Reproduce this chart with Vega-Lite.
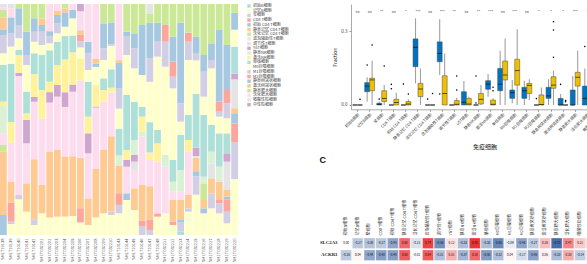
{
"$schema":"https://vega.github.io/schema/vega-lite/v6.json",
"background":"white",
"padding":{"left":0,"top":4,"right":0,"bottom":0},
"config":{"view":{"stroke":null},"font":"Noto Sans CJK SC","axis":{"grid":false}},
"resolve":{"scale":{"color":"independent"},"legend":{"color":"independent"}},
"datasets":{
"cells":[{"k":"k0","name":"初始B细胞","i":0},{"k":"k1","name":"记忆B细胞","i":1},{"k":"k2","name":"浆细胞","i":2},{"k":"k3","name":"CD8 T细胞","i":3},{"k":"k4","name":"初始 CD4 T细胞","i":4},{"k":"k5","name":"静息记忆 CD4 T细胞","i":5},{"k":"k6","name":"活化记忆 CD4 T细胞","i":6},{"k":"k7","name":"滤泡辅助性T细胞","i":7},{"k":"k8","name":"调节性T细胞","i":8},{"k":"k9","name":"γδT细胞","i":9},{"k":"k10","name":"静息NK细胞","i":10},{"k":"k11","name":"激活NK细胞","i":11},{"k":"k12","name":"单核细胞","i":12},{"k":"k13","name":"M0巨噬细胞","i":13},{"k":"k14","name":"M1巨噬细胞","i":14},{"k":"k15","name":"M2巨噬细胞","i":15},{"k":"k16","name":"静息树突状细胞","i":16},{"k":"k17","name":"激活树突状细胞","i":17},{"k":"k18","name":"静息肥大细胞","i":18},{"k":"k19","name":"活化肥大细胞","i":19},{"k":"k20","name":"嗜酸性粒细胞","i":20},{"k":"k21","name":"中性粒细胞","i":21}],
"comp":[
{"s":"SM1T19138","k0":0,"k1":0,"k2":0,"k3":0,"k4":60,"k5":190,"k6":20,"k7":35,"k8":0,"k9":0,"k10":82,"k11":13,"k12":110,"k13":35,"k14":55,"k15":0,"k16":17,"k17":36,"k18":22,"k19":8,"k20":10,"k21":0},
{"s":"SM1T19139","k0":0,"k1":33,"k2":7,"k3":57,"k4":0,"k5":62,"k6":0,"k7":118,"k8":0,"k9":0,"k10":0,"k11":62,"k12":175,"k13":51,"k14":40,"k15":0,"k16":48,"k17":0,"k18":0,"k19":27,"k20":13,"k21":0},
{"s":"SM1T19140","k0":0,"k1":107,"k2":13,"k3":0,"k4":0,"k5":0,"k6":0,"k7":357,"k8":0,"k9":10,"k10":0,"k11":53,"k12":15,"k13":35,"k14":40,"k15":0,"k16":50,"k17":0,"k18":13,"k19":0,"k20":0,"k21":0},
{"s":"SM1T19141","k0":0,"k1":70,"k2":0,"k3":0,"k4":0,"k5":85,"k6":0,"k7":120,"k8":0,"k9":70,"k10":0,"k11":20,"k12":65,"k13":80,"k14":30,"k15":0,"k16":70,"k17":0,"k18":83,"k19":0,"k20":0,"k21":0},
{"s":"SM1T19142","k0":0,"k1":30,"k2":17,"k3":0,"k4":0,"k5":180,"k6":0,"k7":173,"k8":0,"k9":15,"k10":0,"k11":68,"k12":62,"k13":35,"k14":30,"k15":0,"k16":40,"k17":0,"k18":43,"k19":0,"k20":0,"k21":0},
{"s":"SM1T032201","k0":0,"k1":65,"k2":0,"k3":0,"k4":0,"k5":85,"k6":0,"k7":200,"k8":0,"k9":0,"k10":0,"k11":85,"k12":105,"k13":30,"k14":40,"k15":0,"k16":20,"k17":20,"k18":43,"k19":0,"k20":0,"k21":0},
{"s":"SM1T032202","k0":0,"k1":50,"k2":0,"k3":0,"k4":0,"k5":190,"k6":0,"k7":140,"k8":0,"k9":30,"k10":0,"k11":30,"k12":90,"k13":20,"k14":20,"k15":0,"k16":15,"k17":0,"k18":0,"k19":78,"k20":0,"k21":0},
{"s":"SM1T032203","k0":0,"k1":55,"k2":0,"k3":0,"k4":0,"k5":200,"k6":0,"k7":160,"k8":0,"k9":35,"k10":0,"k11":60,"k12":70,"k13":25,"k14":30,"k15":0,"k16":25,"k17":12,"k18":0,"k19":21,"k20":0,"k21":0},
{"s":"SM1T032204","k0":0,"k1":55,"k2":0,"k3":0,"k4":0,"k5":180,"k6":0,"k7":148,"k8":0,"k9":44,"k10":0,"k11":98,"k12":70,"k13":28,"k14":0,"k15":0,"k16":43,"k17":12,"k18":13,"k19":0,"k20":0,"k21":0},
{"s":"SM1T032205","k0":0,"k1":53,"k2":0,"k3":0,"k4":0,"k5":167,"k6":0,"k7":180,"k8":0,"k9":20,"k10":0,"k11":90,"k12":47,"k13":48,"k14":0,"k15":0,"k16":24,"k17":0,"k18":0,"k19":16,"k20":0,"k21":0},
{"s":"SM1T032206","k0":0,"k1":40,"k2":0,"k3":45,"k4":0,"k5":160,"k6":0,"k7":245,"k8":0,"k9":0,"k10":0,"k11":70,"k12":0,"k13":35,"k14":20,"k15":20,"k16":0,"k17":15,"k18":0,"k19":60,"k20":0,"k21":23},
{"s":"SM1T032207","k0":0,"k1":30,"k2":0,"k3":0,"k4":0,"k5":80,"k6":0,"k7":135,"k8":0,"k9":60,"k10":0,"k11":50,"k12":105,"k13":35,"k14":50,"k15":0,"k16":35,"k17":0,"k18":0,"k19":113,"k20":0,"k21":0},
{"s":"SM1T032208","k0":0,"k1":53,"k2":0,"k3":0,"k4":0,"k5":147,"k6":0,"k7":185,"k8":0,"k9":3,"k10":0,"k11":65,"k12":0,"k13":55,"k14":0,"k15":0,"k16":10,"k17":15,"k18":0,"k19":165,"k20":0,"k21":0},
{"s":"SM1T032209","k0":0,"k1":65,"k2":0,"k3":0,"k4":0,"k5":190,"k6":0,"k7":145,"k8":0,"k9":0,"k10":0,"k11":35,"k12":35,"k13":55,"k14":35,"k15":0,"k16":75,"k17":0,"k18":58,"k19":0,"k20":0,"k21":0},
{"s":"SM1T032210","k0":0,"k1":60,"k2":10,"k3":0,"k4":0,"k5":225,"k6":0,"k7":130,"k8":0,"k9":0,"k10":0,"k11":15,"k12":55,"k13":70,"k14":5,"k15":0,"k16":65,"k17":0,"k18":55,"k19":0,"k20":0,"k21":0},
{"s":"SM1T19143","k0":0,"k1":65,"k2":25,"k3":35,"k4":0,"k5":83,"k6":0,"k7":0,"k8":0,"k9":0,"k10":30,"k11":0,"k12":80,"k13":60,"k14":60,"k15":0,"k16":77,"k17":8,"k18":0,"k19":168,"k20":0,"k21":0},
{"s":"SM1T19144","k0":0,"k1":105,"k2":0,"k3":0,"k4":20,"k5":0,"k6":0,"k7":80,"k8":0,"k9":20,"k10":0,"k11":30,"k12":165,"k13":120,"k14":55,"k15":0,"k16":15,"k17":0,"k18":83,"k19":0,"k20":0,"k21":0},
{"s":"SM1T19145","k0":0,"k1":75,"k2":0,"k3":0,"k4":0,"k5":65,"k6":0,"k7":55,"k8":25,"k9":20,"k10":45,"k11":0,"k12":115,"k13":100,"k14":60,"k15":0,"k16":45,"k17":0,"k18":88,"k19":0,"k20":0,"k21":0},
{"s":"SM1T19146","k0":0,"k1":0,"k2":27,"k3":16,"k4":0,"k5":107,"k6":0,"k7":145,"k8":0,"k9":0,"k10":15,"k11":45,"k12":30,"k13":95,"k14":0,"k15":0,"k16":150,"k17":0,"k18":63,"k19":0,"k20":0,"k21":0},
{"s":"SM1T19147","k0":0,"k1":0,"k2":15,"k3":30,"k4":0,"k5":100,"k6":0,"k7":80,"k8":0,"k9":0,"k10":0,"k11":20,"k12":90,"k13":120,"k14":70,"k15":0,"k16":105,"k17":0,"k18":28,"k19":0,"k20":28,"k21":0},
{"s":"SM1T19148","k0":0,"k1":55,"k2":0,"k3":10,"k4":0,"k5":0,"k6":0,"k7":155,"k8":0,"k9":0,"k10":0,"k11":55,"k12":40,"k13":220,"k14":45,"k15":0,"k16":57,"k17":0,"k18":56,"k19":0,"k20":0,"k21":0},
{"s":"SM1T032211","k0":0,"k1":65,"k2":0,"k3":0,"k4":0,"k5":0,"k6":0,"k7":140,"k8":0,"k9":0,"k10":35,"k11":0,"k12":0,"k13":265,"k14":75,"k15":50,"k16":0,"k17":0,"k18":63,"k19":0,"k20":0,"k21":0},
{"s":"SM1T032212","k0":0,"k1":30,"k2":0,"k3":10,"k4":0,"k5":65,"k6":0,"k7":25,"k8":0,"k9":0,"k10":30,"k11":0,"k12":65,"k13":215,"k14":35,"k15":45,"k16":75,"k17":0,"k18":98,"k19":0,"k20":0,"k21":0},
{"s":"SM1T032213","k0":10,"k1":0,"k2":27,"k3":0,"k4":8,"k5":60,"k6":0,"k7":25,"k8":0,"k9":0,"k10":65,"k11":0,"k12":105,"k13":40,"k14":55,"k15":0,"k16":242,"k17":0,"k18":56,"k19":0,"k20":0,"k21":0},
{"s":"SM1T032214","k0":0,"k1":70,"k2":10,"k3":0,"k4":0,"k5":40,"k6":0,"k7":130,"k8":0,"k9":0,"k10":0,"k11":35,"k12":75,"k13":165,"k14":55,"k15":27,"k16":0,"k17":0,"k18":86,"k19":0,"k20":0,"k21":0},
{"s":"SM1T032215","k0":0,"k1":120,"k2":55,"k3":0,"k4":15,"k5":40,"k6":0,"k7":0,"k8":5,"k9":25,"k10":0,"k11":0,"k12":160,"k13":100,"k14":20,"k15":0,"k16":50,"k17":0,"k18":98,"k19":0,"k20":0,"k21":0},
{"s":"SM1T032216","k0":0,"k1":65,"k2":0,"k3":0,"k4":15,"k5":25,"k6":50,"k7":0,"k8":0,"k9":0,"k10":20,"k11":0,"k12":185,"k13":55,"k14":75,"k15":0,"k16":50,"k17":0,"k18":153,"k19":0,"k20":0,"k21":0},
{"s":"SM1T032217","k0":0,"k1":80,"k2":45,"k3":0,"k4":0,"k5":45,"k6":0,"k7":0,"k8":45,"k9":0,"k10":35,"k11":0,"k12":80,"k13":170,"k14":25,"k15":0,"k16":50,"k17":0,"k18":118,"k19":0,"k20":0,"k21":0},
{"s":"SM1T032218","k0":0,"k1":65,"k2":30,"k3":10,"k4":0,"k5":55,"k6":0,"k7":0,"k8":5,"k9":0,"k10":40,"k11":0,"k12":100,"k13":50,"k14":15,"k15":30,"k16":215,"k17":0,"k18":78,"k19":0,"k20":0,"k21":0},
{"s":"SM1T032219","k0":0,"k1":35,"k2":35,"k3":37,"k4":8,"k5":20,"k6":0,"k7":0,"k8":85,"k9":25,"k10":0,"k11":0,"k12":60,"k13":45,"k14":45,"k15":40,"k16":135,"k17":0,"k18":123,"k19":0,"k20":0,"k21":0},
{"s":"SM1T032220","k0":0,"k1":165,"k2":110,"k3":55,"k4":30,"k5":15,"k6":0,"k7":0,"k8":85,"k9":17,"k10":0,"k11":0,"k12":80,"k13":50,"k14":0,"k15":0,"k16":50,"k17":0,"k18":26,"k19":0,"k20":0,"k21":0}
],
"box":[
{"c":"初始B细胞","g":"Normal","lo":0,"q1":0,"med":0,"q3":0,"hi":0},{"c":"初始B细胞","g":"Tumor","lo":0,"q1":0,"med":0,"q3":0,"hi":0},
{"c":"记忆B细胞","g":"Normal","lo":0.014,"q1":0.054,"med":0.077,"q3":0.091,"hi":0.113},{"c":"记忆B细胞","g":"Tumor","lo":0,"q1":0.058,"med":0.102,"q3":0.109,"hi":0.18},
{"c":"浆细胞","g":"Normal","lo":0,"q1":0,"med":0.003,"q3":0.007,"hi":0.014},{"c":"浆细胞","g":"Tumor","lo":0,"q1":0.014,"med":0.027,"q3":0.058,"hi":0.081},
{"c":"CD8 T细胞","g":"Normal","lo":0,"q1":0,"med":0,"q3":0,"hi":0},{"c":"CD8 T细胞","g":"Tumor","lo":0,"q1":0,"med":0.01,"q3":0.023,"hi":0.05},
{"c":"初始 CD4 T细胞","g":"Normal","lo":0,"q1":0,"med":0,"q3":0,"hi":0},{"c":"初始 CD4 T细胞","g":"Tumor","lo":0,"q1":0,"med":0.004,"q3":0.014,"hi":0.023},
{"c":"静息记忆 CD4 T细胞","g":"Normal","lo":0.088,"q1":0.156,"med":0.235,"q3":0.269,"hi":0.353},{"c":"静息记忆 CD4 T细胞","g":"Tumor","lo":0,"q1":0.034,"med":0.065,"q3":0.088,"hi":0.149},
{"c":"活化记忆 CD4 T细胞","g":"Normal","lo":0,"q1":0,"med":0,"q3":0,"hi":0},{"c":"活化记忆 CD4 T细胞","g":"Tumor","lo":0,"q1":0,"med":0,"q3":0,"hi":0},
{"c":"滤泡辅助性T细胞","g":"Normal","lo":0.122,"q1":0.176,"med":0.21,"q3":0.257,"hi":0.349},{"c":"滤泡辅助性T细胞","g":"Tumor","lo":0,"q1":0,"med":0.047,"q3":0.119,"hi":0.21},
{"c":"调节性T细胞","g":"Normal","lo":0,"q1":0,"med":0,"q3":0,"hi":0},{"c":"调节性T细胞","g":"Tumor","lo":0,"q1":0,"med":0.003,"q3":0.018,"hi":0.03},
{"c":"γδT细胞","g":"Normal","lo":0,"q1":0,"med":0.011,"q3":0.054,"hi":0.098},{"c":"γδT细胞","g":"Tumor","lo":0,"q1":0,"med":0.004,"q3":0.027,"hi":0.034},
{"c":"静息NK细胞","g":"Normal","lo":0,"q1":0,"med":0,"q3":0,"hi":0},{"c":"静息NK细胞","g":"Tumor","lo":0,"q1":0.004,"med":0.023,"q3":0.047,"hi":0.081},
{"c":"激活NK细胞","g":"Normal","lo":0.034,"q1":0.064,"med":0.085,"q3":0.099,"hi":0.126},{"c":"激活NK细胞","g":"Tumor","lo":0,"q1":0,"med":0.003,"q3":0.02,"hi":0.027},
{"c":"单核细胞","g":"Normal","lo":0,"q1":0.058,"med":0.085,"q3":0.149,"hi":0.221},{"c":"单核细胞","g":"Tumor","lo":0,"q1":0.102,"med":0.122,"q3":0.179,"hi":0.271},
{"c":"M0巨噬细胞","g":"Normal","lo":0.007,"q1":0.027,"med":0.05,"q3":0.061,"hi":0.102},{"c":"M0巨噬细胞","g":"Tumor","lo":0,"q1":0.081,"med":0.14,"q3":0.186,"hi":0.308},
{"c":"M1巨噬细胞","g":"Normal","lo":0,"q1":0.027,"med":0.058,"q3":0.072,"hi":0.099},{"c":"M1巨噬细胞","g":"Tumor","lo":0.02,"q1":0.047,"med":0.08,"q3":0.088,"hi":0.105},
{"c":"M2巨噬细胞","g":"Normal","lo":0,"q1":0,"med":0,"q3":0,"hi":0},{"c":"M2巨噬细胞","g":"Tumor","lo":0,"q1":0,"med":0.002,"q3":0.041,"hi":0.071},
{"c":"静息树突状细胞","g":"Normal","lo":0,"q1":0.027,"med":0.037,"q3":0.072,"hi":0.105},{"c":"静息树突状细胞","g":"Tumor","lo":0,"q1":0.068,"med":0.081,"q3":0.115,"hi":0.14},
{"c":"激活树突状细胞","g":"Normal","lo":0,"q1":0,"med":0,"q3":0.027,"hi":0.045},{"c":"激活树突状细胞","g":"Tumor","lo":0,"q1":0,"med":0,"q3":0,"hi":0},
{"c":"静息肥大细胞","g":"Normal","lo":0,"q1":0,"med":0,"q3":0.061,"hi":0.118},{"c":"静息肥大细胞","g":"Tumor","lo":0,"q1":0.077,"med":0.113,"q3":0.133,"hi":0.221},
{"c":"活化肥大细胞","g":"Normal","lo":0,"q1":0,"med":0.027,"q3":0.077,"hi":0.149},{"c":"活化肥大细胞","g":"Tumor","lo":0,"q1":0.01,"med":0.03,"q3":0.06,"hi":0.12},
{"c":"嗜酸性粒细胞","g":"Normal","lo":0,"q1":0,"med":0,"q3":0.01,"hi":0.02},{"c":"嗜酸性粒细胞","g":"Tumor","lo":0,"q1":0,"med":0.005,"q3":0.02,"hi":0.04},
{"c":"中性粒细胞","g":"Normal","lo":0,"q1":0,"med":0,"q3":0,"hi":0},{"c":"中性粒细胞","g":"Tumor","lo":0,"q1":0,"med":0,"q3":0,"hi":0}
],
"out":[
{"c":"初始B细胞","g":"Tumor","v":0.023},
{"c":"记忆B细胞","g":"Normal","v":0.163},{"c":"记忆B细胞","g":"Tumor","v":0.244},
{"c":"浆细胞","g":"Normal","v":0.024},{"c":"浆细胞","g":"Tumor","v":0.159},
{"c":"CD8 T细胞","g":"Normal","v":0.084},{"c":"CD8 T细胞","g":"Normal","v":0.066},
{"c":"初始 CD4 T细胞","g":"Normal","v":0.085},{"c":"初始 CD4 T细胞","g":"Tumor","v":0.045},
{"c":"活化记忆 CD4 T细胞","g":"Normal","v":0.024},{"c":"活化记忆 CD4 T细胞","g":"Tumor","v":0.047},
{"c":"滤泡辅助性T细胞","g":"Normal","v":0.045},
{"c":"调节性T细胞","g":"Tumor","v":0.118},{"c":"调节性T细胞","g":"Tumor","v":0.061},
{"c":"静息NK细胞","g":"Normal","v":0.118},{"c":"静息NK细胞","g":"Normal","v":0.008},
{"c":"激活NK细胞","g":"Tumor","v":0.072},{"c":"激活NK细胞","g":"Tumor","v":0.058},
{"c":"M2巨噬细胞","g":"Normal","v":0.026},
{"c":"静息树突状细胞","g":"Tumor","v":0.339},{"c":"静息树突状细胞","g":"Tumor","v":0.305},{"c":"静息树突状细胞","g":"Tumor","v":0.194},
{"c":"激活树突状细胞","g":"Normal","v":0.084},{"c":"激活树突状细胞","g":"Tumor","v":0.018},{"c":"激活树突状细胞","g":"Tumor","v":0.013},
{"c":"活化肥大细胞","g":"Normal","v":0.238}
],
"sig":[{"c":"初始B细胞","t":"ns"},{"c":"记忆B细胞","t":"ns"},{"c":"浆细胞","t":"**"},{"c":"CD8 T细胞","t":"ns"},{"c":"初始 CD4 T细胞","t":"*"},{"c":"静息记忆 CD4 T细胞","t":"***"},{"c":"活化记忆 CD4 T细胞","t":"ns"},{"c":"滤泡辅助性T细胞","t":"***"},{"c":"调节性T细胞","t":"**"},{"c":"γδT细胞","t":"ns"},{"c":"静息NK细胞","t":"**"},{"c":"激活NK细胞","t":"***"},{"c":"单核细胞","t":"ns"},{"c":"M0巨噬细胞","t":"***"},{"c":"M1巨噬细胞","t":"ns"},{"c":"M2巨噬细胞","t":"*"},{"c":"静息树突状细胞","t":"*"},{"c":"激活树突状细胞","t":"*"},{"c":"静息肥大细胞","t":"***"},{"c":"活化肥大细胞","t":"*"},{"c":"嗜酸性粒细胞","t":"**"},{"c":"中性粒细胞","t":"ns"}],
"heat":[
{"g":"SLC2A3","c":"初始B细胞","r":0.00},{"g":"SLC2A3","c":"记忆B细胞","r":-0.27},{"g":"SLC2A3","c":"浆细胞","r":-0.30},{"g":"SLC2A3","c":"CD8 T细胞","r":-0.27},{"g":"SLC2A3","c":"初始 CD4 T细胞","r":-0.45},{"g":"SLC2A3","c":"静息记忆 CD4 T细胞","r":0.60},{"g":"SLC2A3","c":"活化记忆 CD4 T细胞","r":-0.15},{"g":"SLC2A3","c":"滤泡辅助性T细胞","r":0.74},{"g":"SLC2A3","c":"调节性T细胞","r":-0.56},{"g":"SLC2A3","c":"γδT细胞","r":0.12},{"g":"SLC2A3","c":"静息NK细胞","r":-0.33},{"g":"SLC2A3","c":"激活NK细胞","r":0.80},{"g":"SLC2A3","c":"单核细胞","r":-0.33},{"g":"SLC2A3","c":"M0巨噬细胞","r":-0.60},{"g":"SLC2A3","c":"M1巨噬细胞","r":-0.09},{"g":"SLC2A3","c":"M2巨噬细胞","r":-0.46},{"g":"SLC2A3","c":"静息树突状细胞","r":-0.27},{"g":"SLC2A3","c":"激活树突状细胞","r":0.26},{"g":"SLC2A3","c":"静息肥大细胞","r":-0.73},{"g":"SLC2A3","c":"活化肥大细胞","r":0.47},{"g":"SLC2A3","c":"嗜酸性粒细胞","r":0.21},{"g":"SLC2A3","c":"中性粒细胞","r":0.30},
{"g":"ACKR1","c":"初始B细胞","r":-0.26},{"g":"ACKR1","c":"记忆B细胞","r":0.04},{"g":"ACKR1","c":"浆细胞","r":-0.44},{"g":"ACKR1","c":"CD8 T细胞","r":-0.48},{"g":"ACKR1","c":"初始 CD4 T细胞","r":-0.48},{"g":"ACKR1","c":"静息记忆 CD4 T细胞","r":0.63},{"g":"ACKR1","c":"活化记忆 CD4 T细胞","r":-0.02},{"g":"ACKR1","c":"滤泡辅助性T细胞","r":0.64},{"g":"ACKR1","c":"调节性T细胞","r":-0.31},{"g":"ACKR1","c":"γδT细胞","r":0.31},{"g":"ACKR1","c":"静息NK细胞","r":-0.37},{"g":"ACKR1","c":"激活NK细胞","r":0.58},{"g":"ACKR1","c":"单核细胞","r":-0.50},{"g":"ACKR1","c":"M0巨噬细胞","r":-0.32},{"g":"ACKR1","c":"M1巨噬细胞","r":0.04},{"g":"ACKR1","c":"M2巨噬细胞","r":-0.17},{"g":"ACKR1","c":"静息树突状细胞","r":-0.46},{"g":"ACKR1","c":"激活树突状细胞","r":0.06},{"g":"ACKR1","c":"静息肥大细胞","r":-0.33},{"g":"ACKR1","c":"活化肥大细胞","r":0.33},{"g":"ACKR1","c":"嗜酸性粒细胞","r":-0.24},{"g":"ACKR1","c":"中性粒细胞","r":0.20}
]
},
"spacing":30,
"hconcat":[
{
"width":238,"height":231,
"data":{"name":"comp"},
"transform":[
{"fold":["k0","k1","k2","k3","k4","k5","k6","k7","k8","k9","k10","k11","k12","k13","k14","k15","k16","k17","k18","k19","k20","k21"],"as":["k","v"]},
{"lookup":"k","from":{"data":{"name":"cells"},"key":"k","fields":["name","i"]}}
],
"mark":{"type":"bar"},
"encoding":{
"x":{"field":"s","type":"nominal","sort":null,"scale":{"paddingInner":0.12,"paddingOuter":0},"axis":{"title":null,"labelAngle":-90,"labelFontSize":4,"labelColor":"#555","ticks":false,"domain":false,"labelPadding":3}},
"y":{"field":"v","type":"quantitative","stack":"normalize","axis":null,"scale":{"domain":[0,1],"nice":false}},
"color":{"field":"name","type":"nominal","scale":{"domain":["初始B细胞","记忆B细胞","浆细胞","CD8 T细胞","初始 CD4 T细胞","静息记忆 CD4 T细胞","活化记忆 CD4 T细胞","滤泡辅助性T细胞","调节性T细胞","γδT细胞","静息NK细胞","激活NK细胞","单核细胞","M0巨噬细胞","M1巨噬细胞","M2巨噬细胞","静息树突状细胞","激活树突状细胞","静息肥大细胞","活化肥大细胞","嗜酸性粒细胞","中性粒细胞"],"range":["#AFE0D8","#FFFFCA","#D2CFE5","#FCA69C","#A6C8E0","#FECA91","#CAE896","#FDDCED","#E4E4E4","#D0A6D1","#DBF1D6","#FFF29A","#AFE0D8","#FFFFCA","#D2CFE5","#FCA69C","#A6C8E0","#FECA91","#CAE896","#FDDCED","#E4E4E4","#D0A6D1"]},
"legend":{"title":null,"orient":"right","offset":9,"padding":0,"symbolType":"square","symbolSize":12,"symbolStrokeWidth":0,"labelFontSize":4,"labelColor":"#444","rowPadding":0.7,"labelOffset":2,"labelLimit":120}},
"order":{"field":"i","type":"quantitative","sort":"ascending"}
}
},
{
"spacing":6,
"resolve":{"scale":{"color":"independent"},"legend":{"color":"independent"}},
"vconcat":[
{
"width":239,"height":105.3,
"encoding":{"x":{"field":"c","type":"nominal","sort":null,"scale":{"domain":["初始B细胞","记忆B细胞","浆细胞","CD8 T细胞","初始 CD4 T细胞","静息记忆 CD4 T细胞","活化记忆 CD4 T细胞","滤泡辅助性T细胞","调节性T细胞","γδT细胞","静息NK细胞","激活NK细胞","单核细胞","M0巨噬细胞","M1巨噬细胞","M2巨噬细胞","静息树突状细胞","激活树突状细胞","静息肥大细胞","活化肥大细胞","嗜酸性粒细胞","中性粒细胞"],"paddingInner":0.18,"paddingOuter":0.13,"rangeMax":267},"axis":{"title":"免疫细胞","titleFontSize":6,"titleFontWeight":"normal","titleColor":"#222","labelAngle":-45,"labelFontSize":4,"labelColor":"#444","tickColor":"#999","domainColor":"#aaa","tickSize":2,"labelPadding":1,"titlePadding":3}}},
"layer":[
{"data":{"name":"box"},"mark":{"type":"rule","color":"#a0a0a0","strokeWidth":1.1},
"encoding":{"xOffset":{"field":"g","type":"nominal","scale":{"domain":["Normal","Tumor"],"paddingInner":0,"paddingOuter":0}},
"y":{"field":"lo","type":"quantitative","scale":{"domain":[-0.0175,0.411],"nice":false,"zero":false},"axis":{"title":"Fraction","titleFontSize":5,"titleFontWeight":"normal","titleColor":"#222","values":[0,0.1,0.2,0.3],"format":".1f","labelFontSize":4.5,"labelColor":"#444","domainColor":"#aaa","tickColor":"#999","tickSize":2,"titlePadding":3}},
"y2":{"field":"hi"}}},
{"data":{"name":"box"},"mark":{"type":"bar","stroke":"#4a4a4a","strokeWidth":0.5},
"encoding":{"xOffset":{"field":"g","type":"nominal"},"y":{"field":"q1","type":"quantitative"},"y2":{"field":"q3"},
"color":{"field":"g","type":"nominal","scale":{"domain":["Normal","Tumor"],"range":["#0073C2","#EFC000"]},"legend":null}}},
{"data":{"name":"box"},"mark":{"type":"tick","color":"black","thickness":0.9,"size":4.6,"orient":"horizontal"},
"encoding":{"xOffset":{"field":"g","type":"nominal"},"y":{"field":"med","type":"quantitative"}}},
{"data":{"name":"out"},"mark":{"type":"circle","size":2.5,"color":"black","opacity":1},
"encoding":{"xOffset":{"field":"g","type":"nominal"},"y":{"field":"v","type":"quantitative"}}},
{"data":{"name":"sig"},"mark":{"type":"text","fontSize":3.6,"color":"#333"},
"encoding":{"y":{"datum":0.378},"text":{"field":"t"}}}
]
},
{
"width":239,"height":22.5,
"title":{"text":"C","anchor":"start","frame":"bounds","fontSize":9,"fontWeight":"bold","font":"Liberation Sans","offset":34,"color":"#111"},
"data":{"name":"heat"},
"encoding":{
"x":{"field":"c","type":"nominal","sort":null,"scale":{"domain":["初始B细胞","记忆B细胞","浆细胞","CD8 T细胞","初始 CD4 T细胞","静息记忆 CD4 T细胞","活化记忆 CD4 T细胞","滤泡辅助性T细胞","调节性T细胞","γδT细胞","静息NK细胞","激活NK细胞","单核细胞","M0巨噬细胞","M1巨噬细胞","M2巨噬细胞","静息树突状细胞","激活树突状细胞","静息肥大细胞","活化肥大细胞","嗜酸性粒细胞","中性粒细胞"],"paddingInner":0.06,"paddingOuter":0,"rangeMin":-10.4,"rangeMax":246.3},"axis":{"orient":"top","title":null,"labelAngle":-90,"labelFontSize":4,"labelColor":"#333","ticks":false,"domain":false,"labelPadding":3}},
"y":{"field":"g","type":"nominal","sort":["SLC2A3","ACKR1"],"scale":{"paddingInner":0.12,"paddingOuter":0},"axis":{"title":null,"ticks":false,"domain":false,"labelFont":"Liberation Serif","labelFontWeight":"bold","labelFontSize":4.8,"labelColor":"#222","labelPadding":14}}
},
"layer":[
{"mark":{"type":"rect","stroke":"white","strokeWidth":0.3},
"encoding":{"color":{"field":"r","type":"quantitative","scale":{"domain":[-1,0,1],"range":["#02388B","#FFFFFF","#E60000"],"interpolate":"rgb"},"legend":null}}},
{"mark":{"type":"text","fontSize":3,"color":"#111"},
"encoding":{"text":{"field":"r","type":"quantitative","format":".2f"}}}
]
}
]
}
]
}
